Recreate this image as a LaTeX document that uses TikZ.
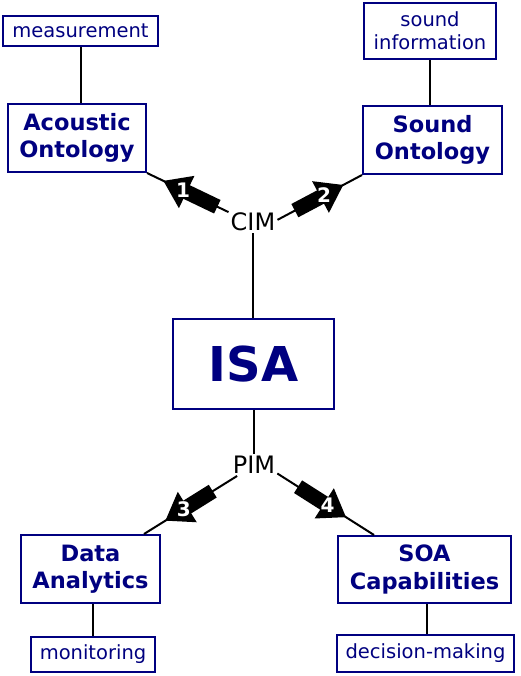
\documentclass[tikz,border=0pt]{standalone}
\usepackage{fontspec}
\setmainfont{DejaVu Sans}
\usetikzlibrary{calc,arrows.meta}
\definecolor{isanavy}{RGB}{0,0,128}
\tikzset{
  box/.style={draw=isanavy, line width=2pt, text=isanavy, inner sep=0pt, align=center, fill=white},
  smallbox/.style={box, font=\fontsize{19.5}{23}\selectfont},
  bigbox/.style={box, font=\fontsize{22.5}{27.5}\selectfont\bfseries},
  conn/.style={draw=black, line width=2pt},
  fatshaft/.style={draw=black, line width=15pt, line cap=butt, -{Triangle[width=34pt, length=26pt]}},
  numlabel/.style={text=white, font=\fontsize{20}{20}\selectfont\bfseries, inner sep=0pt},
  levlabel/.style={font=\fontsize{24}{24}\selectfont, inner sep=2pt}
}
\newcommand\fatarrow[5]{%
  \coordinate (fP) at ($(#2)!#3pt!(#1)$);
  \coordinate (fT) at ($(#2)!#4pt!(#1)$);
  \coordinate (fB) at ($(fP)!22pt!(fT)$);
  \draw[fatshaft] (fT) -- (fP);
  \node[numlabel] at (fB) {#5};
}
\begin{document}
\begin{tikzpicture}[x=1pt,y=-1pt]
\path[use as bounding box, fill=white] (0,0) rectangle (520,676);
\node[smallbox, minimum width=155pt, minimum height=30pt] (meas) at (80.5,31) {measurement};
\node[bigbox, minimum width=138pt, minimum height=68pt] (ac) at (77,138) {Acoustic\\Ontology};
\node[smallbox, minimum width=132pt, minimum height=56pt] (si) at (430,31) {sound\\information};
\node[bigbox, minimum width=139pt, minimum height=68pt] (so) at (432.5,140) {Sound\\Ontology};
\node[box, font=\fontsize{48}{48}\selectfont\bfseries, minimum width=161pt, minimum height=90pt] (isa) at (253.5,364) {ISA};
\node[bigbox, minimum width=139pt, minimum height=68pt] (da) at (90.5,569) {Data\\Analytics};
\node[bigbox, minimum width=173pt, minimum height=67pt] (soa) at (424.5,569.5) {SOA\\Capabilities};
\node[smallbox, minimum width=124pt, minimum height=35pt] (mon) at (93,654.5) {monitoring};
\node[smallbox, minimum width=177pt, minimum height=37pt] (dm) at (425.5,653.5) {decision-making};
\node[levlabel] (cim) at (253,222) {CIM};
\node[levlabel] (pim) at (254,465) {PIM};
\coordinate (daend) at ([xshift=-17pt]da.north east);
\coordinate (soaend) at ([xshift=37pt]soa.north west);
% connectors
\draw[conn] (meas.south) -- (meas.south |- ac.north);
\draw[conn] (si.south) -- (si.south |- so.north);
\draw[conn] (mon.north |- da.south) -- (mon.north);
\draw[conn] ([xshift=1.5pt]dm.north |- soa.south) -- ([xshift=1.5pt]dm.north);
\draw[conn] (cim.158) -- (ac.south east);
\draw[conn] (cim.5) -- (so.south west);
\draw[conn] (cim.south) -- (cim.south |- isa.north);
\draw[conn] (isa.south) -- (isa.south |- pim.north);
\draw[conn] (pim.213) -- (daend);
\draw[conn] (pim.-20) -- (soaend);
% fat arrows
\fatarrow{cim.158}{ac.south east}{18}{78}{1}
\fatarrow{cim.5}{so.south west}{21}{76}{2}
\fatarrow{pim.213}{daend}{25}{81}{3}
\fatarrow{pim.-20}{soaend}{33}{90}{4}
\end{tikzpicture}
\end{document}
